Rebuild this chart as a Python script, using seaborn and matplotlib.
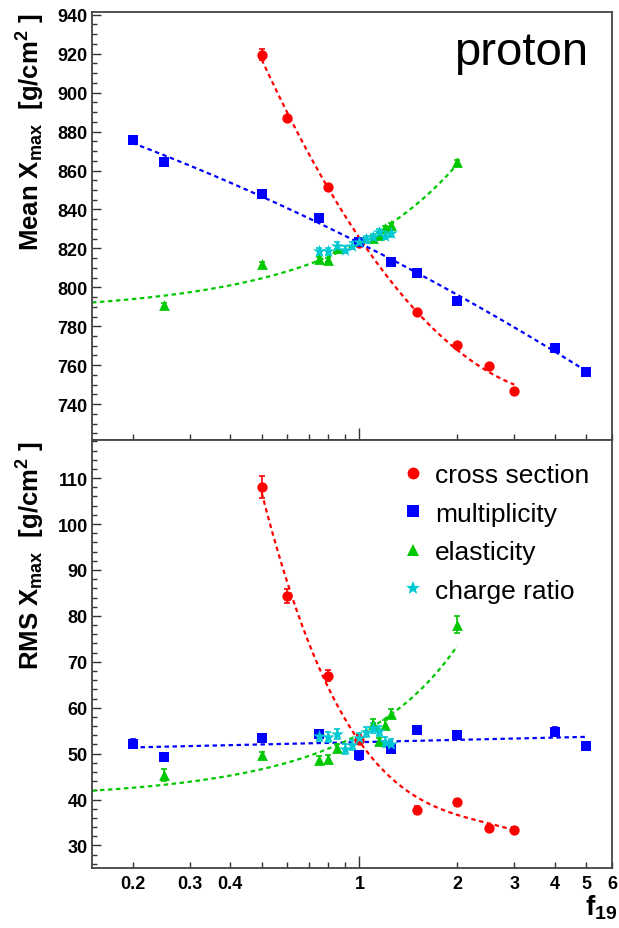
import numpy as np
import pandas as pd
import matplotlib
matplotlib.use("Agg")
import matplotlib.pyplot as plt
from matplotlib.ticker import FixedLocator, FuncFormatter, MultipleLocator
from matplotlib.lines import Line2D
import seaborn as sns

# ---- data: mean and RMS of Xmax versus the scaling factor f19 ----
cs_x = [0.5, 0.6, 0.8, 1.0, 1.5, 2.0, 2.5, 3.0]
cs_mean = [919.5, 887.0, 851.7, 823.0, 787.5, 770.4, 759.4, 746.6]
cs_mean_err = [3.0, 1.2, 1.2, 1.0, 1.0, 1.0, 1.0, 1.0]
cs_rms = [108.0, 84.3, 67.0, 53.0, 37.7, 39.4, 33.8, 33.4]
cs_rms_err = [2.4, 1.6, 1.2, 1.0, 0.8, 0.8, 0.7, 0.7]

mult_x = [0.2, 0.25, 0.5, 0.75, 1.0, 1.25, 1.5, 2.0, 4.0, 5.0]
mult_mean = [875.8, 864.5, 847.9, 835.8, 823.1, 813.2, 807.6, 793.2, 769.0, 756.6]
mult_mean_err = [1.0] * 10
mult_rms = [52.2, 49.3, 53.4, 54.2, 49.6, 51.0, 55.2, 54.0, 54.8, 51.6]
mult_rms_err = [0.9] * 10

elast_x = [0.25, 0.5, 0.75, 0.8, 0.85, 1.1, 1.15, 1.2, 1.25, 2.0]
elast_mean = [790.9, 811.8, 814.5, 814.0, 820.0, 825.5, 827.0, 830.3, 831.8, 864.2]
elast_mean_err = [1.0] * 10
elast_rms = [45.3, 49.6, 48.7, 48.9, 51.2, 56.5, 52.7, 56.3, 58.7, 78.1]
elast_rms_err = [1.3, 0.8, 0.8, 0.8, 0.8, 1.0, 0.8, 1.0, 1.0, 1.8]

charge_x = [0.75, 0.8, 0.85, 0.9, 0.95, 1.0, 1.05, 1.1, 1.15, 1.2, 1.25]
charge_mean = [818.5, 818.5, 821.4, 819.3, 821.4, 823.4, 824.8, 825.6, 828.2, 826.5, 827.7]
charge_mean_err = [1.8] * 11
charge_rms = [53.8, 53.6, 54.3, 51.1, 51.8, 53.4, 54.7, 55.6, 55.0, 52.5, 52.1]
charge_rms_err = [1.1] * 11

series_labels = ["cross section", "multiplicity", "elasticity", "charge ratio"]
x_tick_labels = ["0.2", "0.3", "0.4", "1", "2", "3", "4", "5", "6"]

# ---- styling ----
sns.set_theme(style="ticks")
plt.rcParams["font.family"] = ["Liberation Sans", "DejaVu Sans"]
plt.rcParams["mathtext.default"] = "regular"
plt.rcParams["text.color"] = "black"

RED, BLUE, GREEN, CYAN = "#ff0000", "#0000ff", "#00c800", "#00c8d2"

# fit per panel (mean, rms): (model, degree)
#   "log"  -> polynomial in log10(f)
#   "lin"  -> polynomial in f
#   "expo" -> log(value) polynomial in f
series = [
    dict(x=cs_x, mean=cs_mean, mean_err=cs_mean_err, rms=cs_rms, rms_err=cs_rms_err,
         color=RED, marker="o", s=55, fit=(0.5, 3.0), model=(("log", 2), ("log", 3))),
    dict(x=mult_x, mean=mult_mean, mean_err=mult_mean_err, rms=mult_rms, rms_err=mult_rms_err,
         color=BLUE, marker="s", s=52, fit=(0.2, 5.0), model=(("log", 2), ("log", 1))),
    dict(x=elast_x, mean=elast_mean, mean_err=elast_mean_err, rms=elast_rms, rms_err=elast_rms_err,
         color=GREEN, marker="^", s=60, fit=(0.15, 2.0), model=(("lin", 2), ("expo", 1))),
    dict(x=charge_x, mean=charge_mean, mean_err=charge_mean_err, rms=charge_rms, rms_err=charge_rms_err,
         color=CYAN, marker="*", s=95, fit=None, model=None),
]

W, H = 619, 929
fig = plt.figure(figsize=(W / 100, H / 100), dpi=100)
left, right = 92, 612
top1, mid, bot2 = 13, 441, 869
ax1 = fig.add_axes([left / W, 1 - mid / H, (right - left) / W, (mid - top1) / H])
ax2 = fig.add_axes([left / W, 1 - bot2 / H, (right - left) / W, (bot2 - mid) / H])


def fit_curve(xv, yv, model, deg, xs):
    xv = np.asarray(xv, float)
    yv = np.asarray(yv, float)
    if model == "log":
        return np.polyval(np.polyfit(np.log10(xv), yv, deg), np.log10(xs))
    if model == "lin":
        return np.polyval(np.polyfit(xv, yv, deg), xs)
    return np.exp(np.polyval(np.polyfit(xv, np.log(yv), deg), xs))


def draw_panel(ax, key, err_key, idx):
    # dashed fit curves
    for sr in series:
        if sr["fit"] is None:
            continue
        model, deg = sr["model"][idx]
        xs = np.logspace(np.log10(sr["fit"][0]), np.log10(sr["fit"][1]), 200)
        ys = fit_curve(sr["x"], sr[key], model, deg, xs)
        sns.lineplot(x=xs, y=ys, ax=ax, color=sr["color"], lw=1.6,
                     linestyle=(0, (2.0, 1.6)), zorder=2, legend=False)
    # points with error bars
    for sr in series:
        ax.errorbar(sr["x"], sr[key], yerr=sr[err_key], fmt="none", ecolor=sr["color"],
                    elinewidth=1.2, capsize=2.5, capthick=1.2, zorder=3)
        df = pd.DataFrame({"f": sr["x"], "v": sr[key]})
        sns.scatterplot(data=df, x="f", y="v", ax=ax, marker=sr["marker"], color=sr["color"],
                        s=sr["s"], linewidth=0, zorder=4, legend=False)


draw_panel(ax1, "mean", "mean_err", 0)
draw_panel(ax2, "rms", "rms_err", 1)

tick_vals = [float(t) for t in x_tick_labels]
minor_vals = [0.2, 0.3, 0.4, 0.5, 0.6, 0.7, 0.8, 0.9, 2, 3, 4, 5, 6]

ax1.set_ylim(721.6, 941.4)
ax1.set_yticks(np.arange(740, 941, 20))
ax1.yaxis.set_minor_locator(MultipleLocator(5))

ax2.set_ylim(25.1, 118.3)
ax2.set_yticks(np.arange(30, 111, 10))
ax2.yaxis.set_minor_locator(MultipleLocator(2))

for ax in (ax1, ax2):
    ax.set_xscale("log")
    ax.set_xlim(0.15, 6)
    ax.xaxis.set_major_locator(FixedLocator([1]))
    ax.xaxis.set_minor_locator(FixedLocator(minor_vals))
    ax.xaxis.set_major_formatter(FuncFormatter(lambda v, p: "%g" % v))
    ax.xaxis.set_minor_formatter(FuncFormatter(
        lambda v, p: ("%g" % v) if any(abs(v - t) < 1e-9 for t in tick_vals) else ""))
    ax.tick_params(axis="both", which="both", direction="in", top=False, right=False,
                   colors="#333333", labelcolor="black", width=1.0,
                   labelsize=13)
    ax.tick_params(axis="x", which="major", length=8.5, pad=5)
    ax.tick_params(axis="x", which="minor", length=4.0, pad=5)
    ax.tick_params(axis="y", which="major", length=6.5, pad=3)
    ax.tick_params(axis="y", which="minor", length=3.5)
    for sp in ax.spines.values():
        sp.set_visible(True)
        sp.set_color("#444444")
        sp.set_linewidth(1.3)
    for lab in ax.get_xticklabels(which="both") + ax.get_yticklabels():
        lab.set_fontweight("bold")
    ax.set_xlabel("")
    ax.set_ylabel("")

ax1.tick_params(axis="x", which="both", labelbottom=False)

ax1.set_ylabel(r"Mean X$_{max}$  [g/cm$^{2}$ ]", fontsize=18.5, fontweight="bold",
               loc="top", color="black")
ax2.set_ylabel(r"RMS X$_{max}$  [g/cm$^{2}$ ]", fontsize=18.5, fontweight="bold",
               loc="top", color="black")
ax1.yaxis.set_label_coords(-0.087, 1.0)
ax2.yaxis.set_label_coords(-0.087, 1.0)

ax2.set_xlabel(r"f$_{19}$", fontsize=20, fontweight="bold", loc="right", color="black")
ax2.xaxis.set_label_coords(1.01, -0.058)

ax1.text(0.955, 0.878, "proton", transform=ax1.transAxes, ha="right", va="baseline",
         fontsize=34, color="black")

handles = [Line2D([], [], linestyle="none", marker=sr["marker"], color=sr["color"],
                  markersize=8.5 if sr["marker"] != "*" else 10, markeredgewidth=0)
           for sr in series]
ax2.legend(handles, series_labels, loc="upper left", bbox_to_anchor=(0.591, 0.946),
           frameon=False, fontsize=19, handlelength=1.0, handletextpad=0.35,
           labelspacing=0.55, borderaxespad=0, borderpad=0, labelcolor="black")

fig.savefig("out.png", dpi=100)
